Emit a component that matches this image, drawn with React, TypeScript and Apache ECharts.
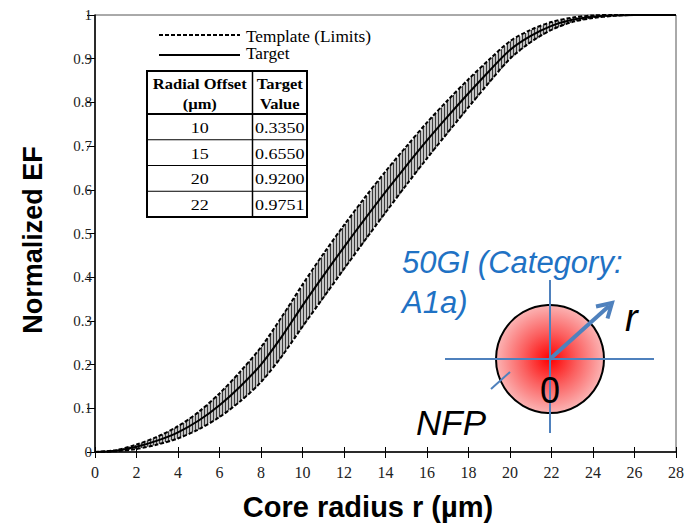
import React, { useEffect, useRef } from "react";
import * as echarts from "echarts";

// ---- Data ----
const radius = [0, 1, 2, 3, 4, 5, 6, 7, 8, 9, 10, 11, 12, 13, 14, 15, 16, 17, 18, 19, 20, 21, 22, 23, 24, 25, 26, 27, 28];
const targetEF = [0, 0.003, 0.012, 0.026, 0.045, 0.072, 0.107, 0.15, 0.2, 0.264, 0.335, 0.403, 0.469, 0.533, 0.595, 0.655, 0.713, 0.768, 0.821, 0.872, 0.92, 0.952, 0.9751, 0.989, 0.996, 0.999, 1, 1, 1];
const lowerLimit = [0, 0.0018, 0.007, 0.017, 0.031, 0.052, 0.08, 0.116, 0.16, 0.219, 0.287, 0.353, 0.419, 0.484, 0.548, 0.611, 0.672, 0.731, 0.789, 0.846, 0.9, 0.938, 0.966, 0.984, 0.993, 0.998, 1, 1, 1];
const upperLimit = [0, 0.0042, 0.017, 0.035, 0.059, 0.092, 0.134, 0.184, 0.24, 0.309, 0.383, 0.453, 0.519, 0.582, 0.642, 0.699, 0.754, 0.805, 0.853, 0.898, 0.94, 0.966, 0.984, 0.994, 0.999, 1, 1, 1, 1];

const tableOffsets = ["10", "15", "20", "22"];
const tableTargets = ["0.3350", "0.6550", "0.9200", "0.9751"];

const legendLabels = ["Template (Limits)", "Target"];
const xAxisTitle = "Core radius r (µm)";
const yAxisTitle = "Normalized EF";

const SERIF = "'Liberation Serif', 'Times New Roman', serif";
const SANS = "'Liberation Sans', Arial, sans-serif";
const BLUE_LINE = "#4f81bd";
const BLUE_TEXT = "#1f72c4";

function txt(text: string, x: number, y: number, opts: any = {}) {
  const align = opts.align || "left";
  const valign = opts.valign || "middle";
  return {
    type: "text",
    x,
    y,
    scaleX: opts.scaleX || 1,
    rotation: opts.rotation || 0,
    z: 100,
    silent: true,
    style: {
      text,
      x: 0,
      y: 0,
      fill: opts.fill || "#000",
      fontSize: opts.size || 16,
      fontFamily: opts.family || SERIF,
      fontWeight: opts.weight || "normal",
      fontStyle: opts.style || "normal",
      textAlign: align,
      textVerticalAlign: valign,
      align,
      verticalAlign: valign,
    },
  };
}

function ln(x1: number, y1: number, x2: number, y2: number, stroke: string, lineWidth: number, lineDash?: number[]) {
  return {
    type: "line",
    z: 100,
    silent: true,
    shape: { x1, y1, x2, y2 },
    style: { stroke, lineWidth, lineDash: lineDash || null },
  };
}

function buildGraphics() {
  const g: any[] = [];
  // Axis titles
  g.push(txt(xAxisTitle, 368, 507, { size: 29, family: SANS, weight: "bold", align: "center" }));
  g.push(txt(yAxisTitle, 33, 240, { size: 27, family: SANS, weight: "bold", align: "center", rotation: Math.PI / 2 }));

  // Legend
  g.push(ln(159, 35, 240, 35, "#000", 2, [4, 2]));
  g.push(txt(legendLabels[0], 246, 37, { size: 16, scaleX: 1.08 }));
  g.push(ln(159, 55, 240, 55, "#000", 2));
  g.push(txt(legendLabels[1], 246, 54, { size: 16, scaleX: 1.08 }));

  // Table
  const tl = 147, tr = 307, tt = 71, tb = 217, colX = 252.5, headB = 114;
  g.push({ type: "rect", z: 99, silent: true, shape: { x: tl, y: tt, width: tr - tl, height: tb - tt }, style: { fill: "#fff", stroke: "#000", lineWidth: 2 } });
  g.push(ln(colX, tt, colX, tb, "#000", 1.5));
  g.push(ln(tl, headB, tr, headB, "#000", 2));
  const rowH = (tb - headB) / tableOffsets.length;
  for (let i = 1; i < tableOffsets.length; i++) {
    const y = headB + rowH * i;
    g.push(ln(tl, y, tr, y, "#000", 1));
  }
  const c1 = (tl + colX) / 2, c2 = (colX + tr) / 2;
  const hs = { size: 15, weight: "bold", align: "center", scaleX: 1.1 };
  g.push(txt("Radial Offset", c1, 84, hs));
  g.push(txt("(µm)", c1, 104, hs));
  g.push(txt("Target", c2, 84, hs));
  g.push(txt("Value", c2, 104, hs));
  tableOffsets.forEach((v, i) => {
    const y = headB + rowH * (i + 0.5) + 1;
    g.push(txt(v, c1, y, { size: 15, align: "center", scaleX: 1.2 }));
    g.push(txt(tableTargets[i], c2, y, { size: 15, align: "center", scaleX: 1.2 }));
  });

  // Annotation
  g.push(txt("50GI (Category:", 402, 262, { size: 31, family: SANS, style: "italic", fill: BLUE_TEXT }));
  g.push(txt("A1a)", 402, 302, { size: 31, family: SANS, style: "italic", fill: BLUE_TEXT }));
  const cx = 550, cy = 359;
  g.push({
    type: "circle",
    z: 100,
    silent: true,
    shape: { cx, cy, r: 54 },
    style: {
      fill: {
        type: "radial",
        x: 0.5,
        y: 0.5,
        r: 0.5,
        colorStops: [
          { offset: 0, color: "#ff0000" },
          { offset: 0.5, color: "#fb5f5f" },
          { offset: 1, color: "#fbb4b4" },
        ],
      },
      stroke: "#000",
      lineWidth: 2,
    },
  });
  g.push(ln(445, cy, 654, cy, BLUE_LINE, 2));
  g.push(ln(cx, 280, cx, 433, BLUE_LINE, 2));
  g.push(ln(491, 389, 510, 372, BLUE_LINE, 2));
  g.push(ln(cx, cy, 609, 306, BLUE_LINE, 4));
  g.push({
    type: "polyline",
    z: 100,
    silent: true,
    shape: { points: [[596, 306.5], [612, 303], [607.5, 318.5]] },
    style: { stroke: BLUE_LINE, lineWidth: 4, fill: null, lineJoin: "miter" },
  });
  g.push(txt("r", 625, 318, { size: 38, family: SANS, style: "italic" }));
  g.push(txt("0", 550, 390, { size: 36, family: SANS, align: "center" }));
  g.push(txt("NFP", 416, 422, { size: 35, family: SANS, style: "italic" }));
  return g;
}

export default function App() {
  const ref = useRef<HTMLDivElement>(null);
  useEffect(() => {
    if (!ref.current) return;
    const chart = echarts.init(ref.current, null, { renderer: "svg" });
    const n = radius.length;
    const bandData = radius.map((r, i) => [r, lowerLimit[i], upperLimit[i]]);

    const option: any = {
      animation: false,
      backgroundColor: "#fff",
      textStyle: { fontFamily: SERIF },
      grid: { left: 95, right: 5, top: 15, bottom: 71, show: true, borderColor: "#555", borderWidth: 1, containLabel: false },
      xAxis: [
        {
          type: "value",
          min: 0,
          max: 28,
          interval: 2,
          axisLine: { show: true, onZero: false, lineStyle: { color: "#000", width: 1.5 } },
          axisTick: { show: true, inside: false, length: 6, lineStyle: { color: "#000", width: 1 } },
          axisLabel: {
            margin: 12,
            formatter: "{t|{value}}",
            rich: { t: { fontFamily: SERIF, fontSize: 16, color: "#222" } },
          },
          splitLine: { show: false },
        },
        {
          type: "value",
          min: 0,
          max: 28,
          interval: 2,
          position: "bottom",
          axisLine: { show: false },
          axisTick: { show: true, inside: true, length: 5, lineStyle: { color: "#000", width: 1 } },
          axisLabel: { show: false },
          splitLine: { show: false },
        },
      ],
      yAxis: {
        type: "value",
        min: 0,
        max: 1,
        interval: 0.1,
        axisLine: { show: true, onZero: false, lineStyle: { color: "#000", width: 1.5 } },
        axisTick: { show: true, inside: false, length: 8, lineStyle: { color: "#000", width: 1 } },
        axisLabel: {
          margin: 3,
          formatter: "{t|{value}}",
          rich: { t: { fontFamily: SERIF, fontSize: 15, color: "#222" } },
        },
        splitLine: { show: false },
      },
      series: [
        {
          type: "custom",
          name: "Template band",
          silent: true,
          xAxisIndex: 0,
          encode: { x: 0, y: [1, 2] },
          data: bandData,
          z: 1,
          renderItem: (params: any, api: any) => {
            const i = params.dataIndex;
            if (i >= n - 1) return { type: "group", children: [] };
            const a0 = api.coord([radius[i], lowerLimit[i]]);
            const b0 = api.coord([radius[i], upperLimit[i]]);
            const a1 = api.coord([radius[i + 1], lowerLimit[i + 1]]);
            const b1 = api.coord([radius[i + 1], upperLimit[i + 1]]);
            const x0 = a0[0], x1 = a1[0];
            const children: any[] = [];
            const step = 3;
            for (let x = Math.ceil(x0 / step) * step; x < x1; x += step) {
              const t = (x - x0) / (x1 - x0);
              const ylo = a0[1] + t * (a1[1] - a0[1]);
              const yhi = b0[1] + t * (b1[1] - b0[1]);
              if (ylo - yhi > 0.8) {
                children.push({
                  type: "line",
                  shape: { x1: x + 0.5, y1: yhi, x2: x + 0.5, y2: ylo },
                  style: { stroke: "#3a3a3a", lineWidth: 1.6 },
                });
              }
            }
            return { type: "group", children };
          },
        },
        {
          type: "line",
          name: "Lower limit",
          data: radius.map((r, i) => [r, lowerLimit[i]]),
          showSymbol: false,
          smooth: 0.3,
          lineStyle: { color: "#000", width: 2, type: [4, 2] },
          z: 3,
        },
        {
          type: "line",
          name: "Upper limit",
          data: radius.map((r, i) => [r, upperLimit[i]]),
          showSymbol: false,
          smooth: 0.3,
          lineStyle: { color: "#000", width: 2, type: [4, 2] },
          z: 3,
        },
        {
          type: "line",
          name: "Target",
          data: radius.map((r, i) => [r, targetEF[i]]),
          showSymbol: false,
          smooth: 0.3,
          lineStyle: { color: "#000", width: 2 },
          z: 4,
        },
      ],
      graphic: buildGraphics(),
    };
    chart.setOption(option);
    return () => chart.dispose();
  }, []);
  return <div ref={ref} style={{ position: "absolute", left: 0, top: 0, width: 687, height: 523 }} />;
}
